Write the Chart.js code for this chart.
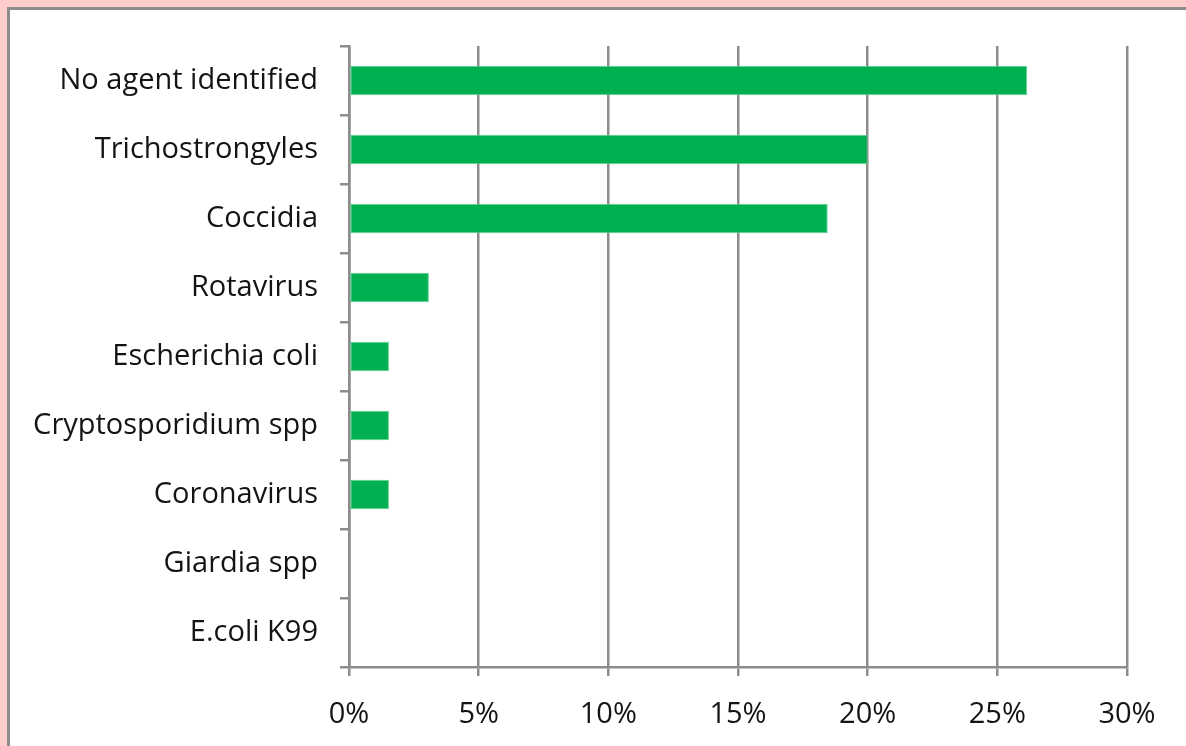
<!DOCTYPE html>
<html>
<head>
<meta charset="utf-8">
<script src="https://cdn.jsdelivr.net/npm/chart.js@4"></script>
<style>
  html, body { margin:0; padding:0; background:#ffcccc; width:1186px; height:746px; overflow:hidden; }
  #panel { position:absolute; left:7px; top:7px; width:1200px; height:800px; background:#fff; border:3px solid #8c8c8c; box-sizing:border-box; }
  #wrap { position:absolute; left:0; top:0; width:1186px; height:746px; }
</style>
</head>
<body>
<div id="panel"></div>
<div id="wrap"><canvas id="c" width="1186" height="746"></canvas></div>
<script>
const categories = ["No agent identified","Trichostrongyles","Coccidia","Rotavirus","Escherichia coli","Cryptosporidium spp","Coronavirus","Giardia spp","E.coli K99"];
const values = [26.15, 20.0, 18.46, 3.08, 1.54, 1.54, 1.54, 0, 0];
const xTicks = [0, 5, 10, 15, 20, 25, 30];

const gridColor = "#8c8c8c";
const textColor = "#141414";
const fontFam = "'Open Sans', sans-serif";

new Chart(document.getElementById('c'), {
  type: 'bar',
  data: {
    labels: categories,
    datasets: [{
      data: values,
      backgroundColor: "#00b050",
      borderColor: "#5fd08f",
      borderWidth: 1,
      borderSkipped: false,
      barPercentage: 0.43,
      categoryPercentage: 1.0
    }]
  },
  options: {
    indexAxis: 'y',
    responsive: false,
    animation: false,
    devicePixelRatio: 1,
    layout: { padding: { top: 46, right: 59, bottom: 0, left: 0 } },
    plugins: { legend: { display: false }, tooltip: { enabled: false } },
    scales: {
      x: {
        min: 0, max: 30,
        afterBuildTicks: (s) => { s.ticks = xTicks.map(v => ({ value: v })); },
        afterFit: (s) => { s.height = 79; },
        border: { display: true, color: gridColor, width: 2.5 },
        grid: { color: gridColor, lineWidth: 2.5, tickLength: 9, tickColor: gridColor, drawTicks: true },
        ticks: { color: textColor, font: { family: fontFam, size: 29 }, padding: 21, callback: (v) => v + "%" , maxRotation: 0}
      },
      y: {
        offset: true,
        afterFit: (s) => { s.width = 349; },
        border: { display: true, color: gridColor, width: 2.5 },
        grid: { offset: true, drawOnChartArea: false, color: gridColor, lineWidth: 2.5, tickLength: 9, tickColor: gridColor },
        ticks: { color: textColor, font: { family: fontFam, size: 29 }, padding: 22 }
      }
    }
  }
});
</script>
</body>
</html>
